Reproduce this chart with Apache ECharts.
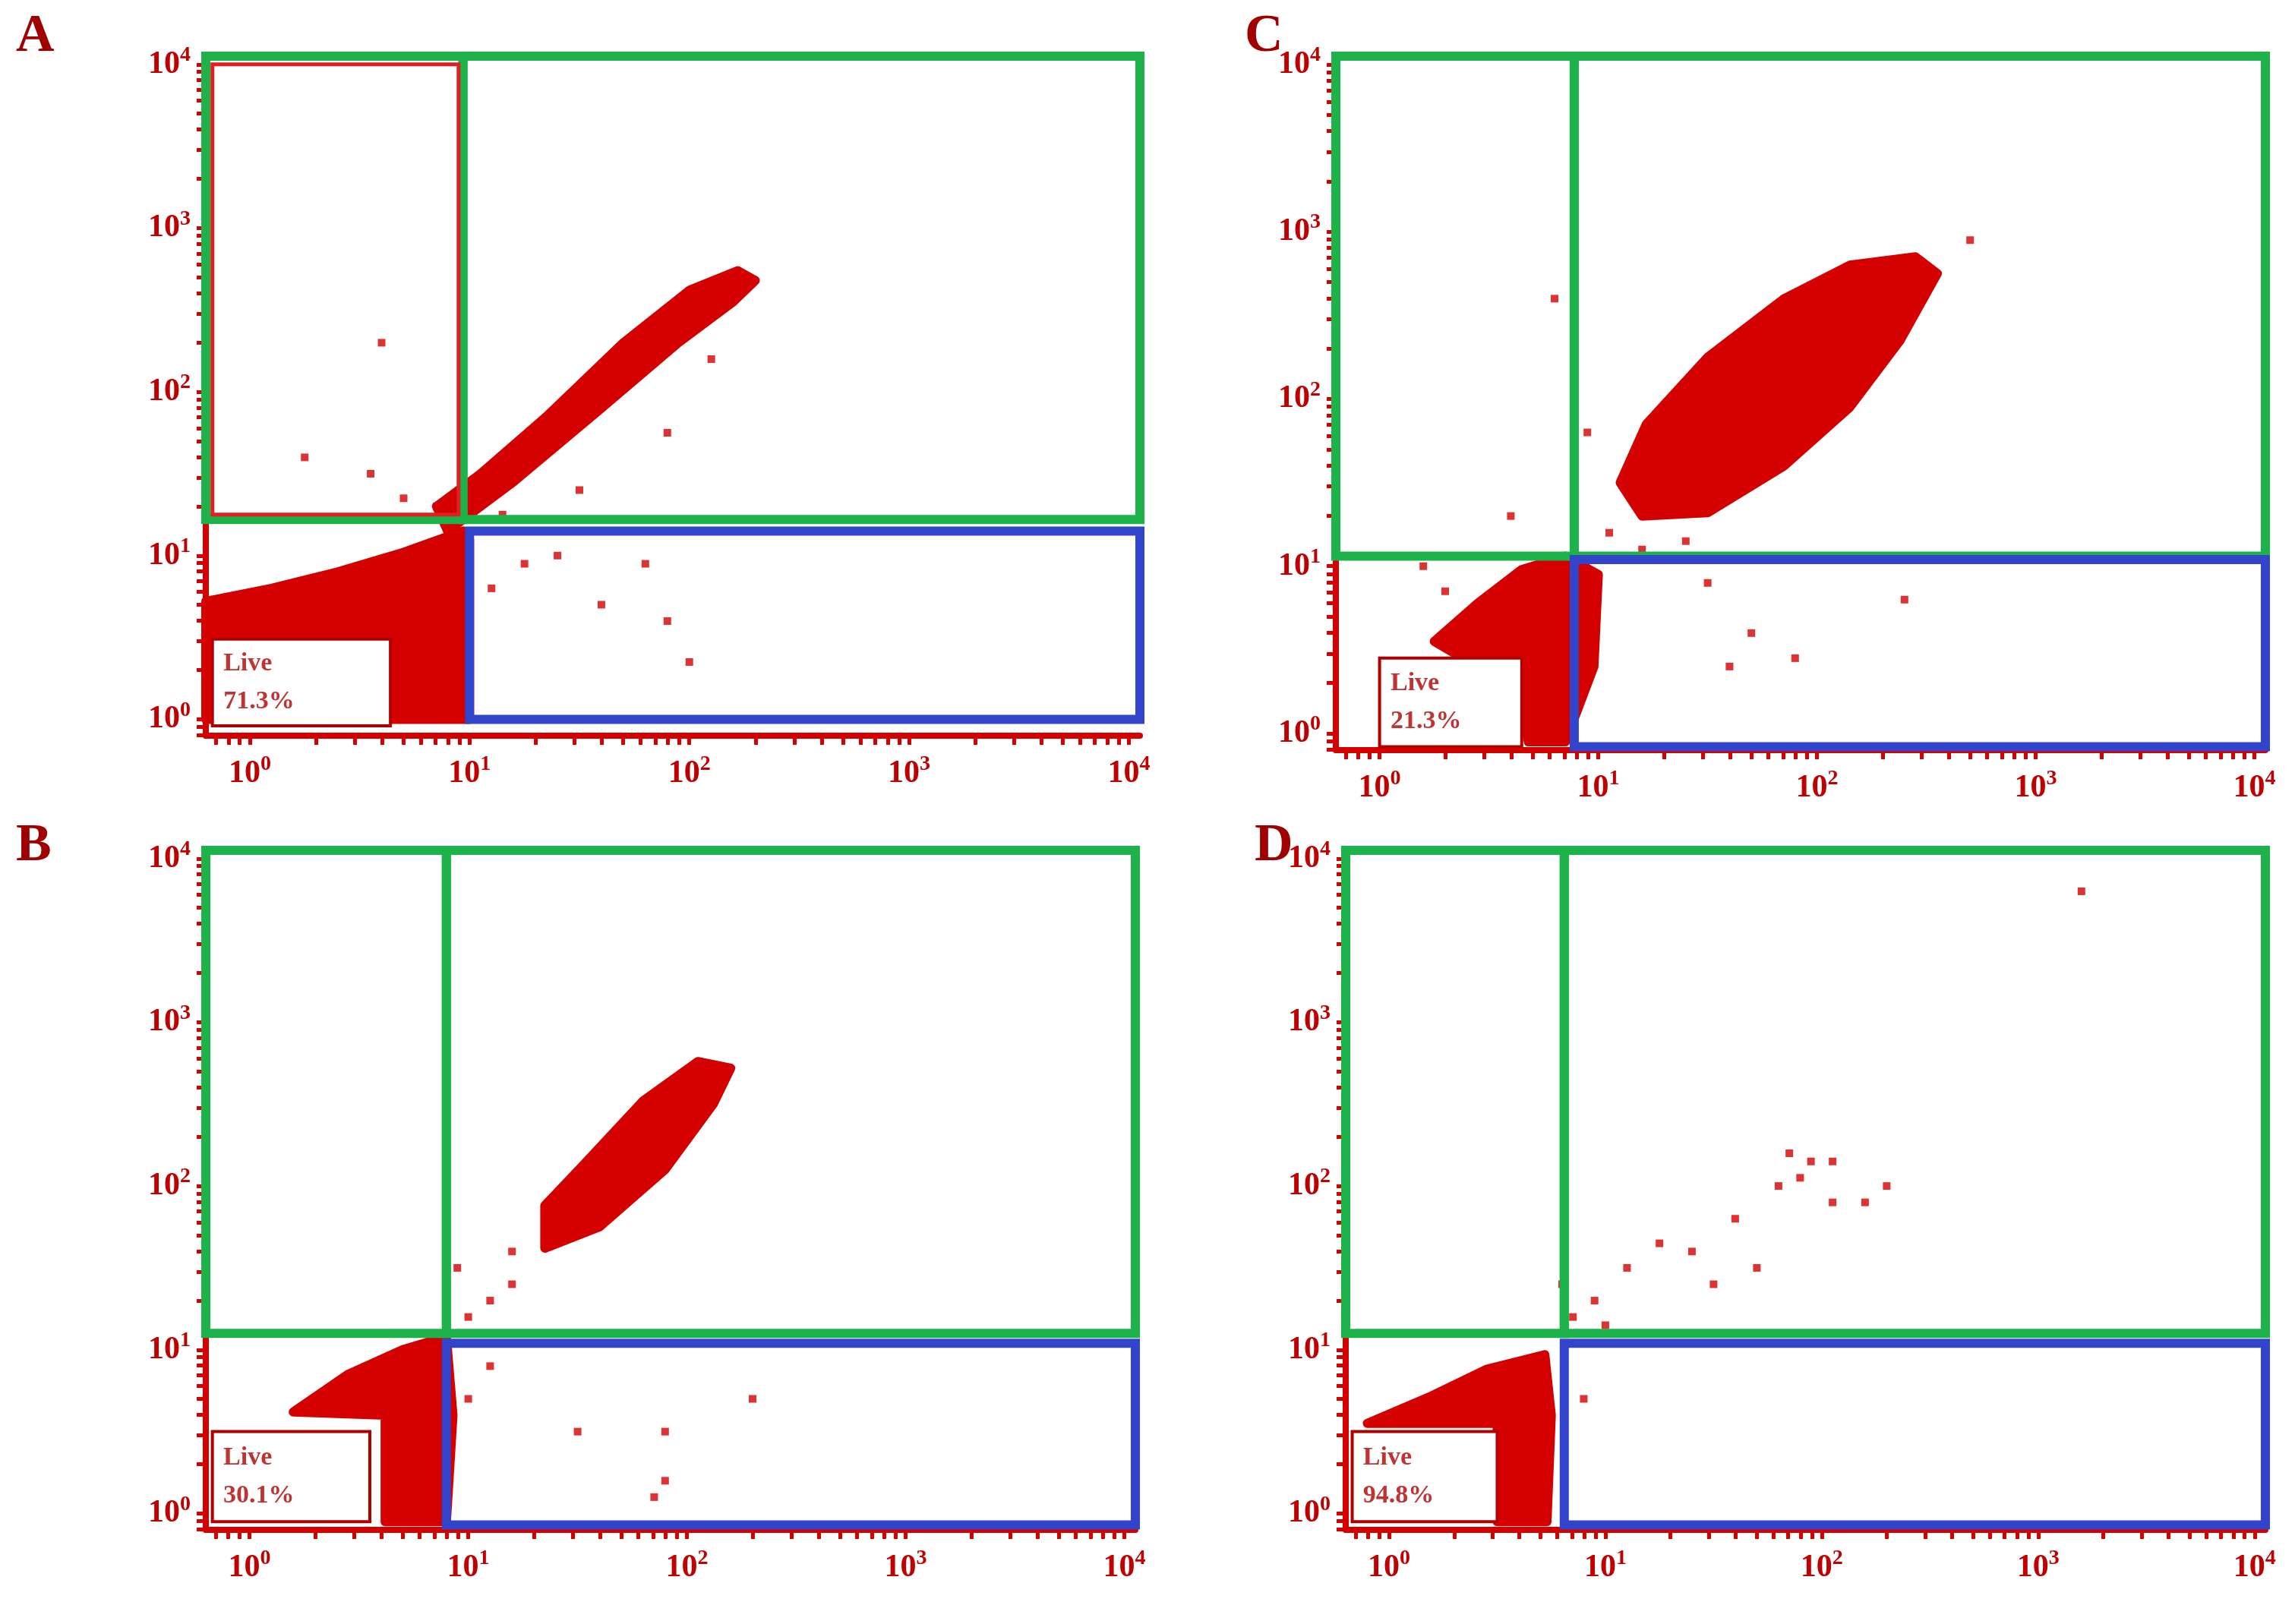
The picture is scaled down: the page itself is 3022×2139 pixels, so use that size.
<!DOCTYPE html>
<html><head><meta charset="utf-8">
<script src="https://cdn.jsdelivr.net/npm/echarts@6/dist/echarts.min.js"></script>
<style>html,body{margin:0;background:#fff}#c{width:3022px;height:2139px}</style>
</head><body><div id="c"></div>
<script>
// panels: A, C (top), B, D (bottom); coordinates are log10 values
var panelNames = ['A', 'C', 'B', 'D'];
var liveText = ['71.3%', '21.3%', '30.1%', '94.8%'];
var decades = [0, 1, 2, 3, 4];

// dense population outlines
var blobs = [
  [
    [[-0.2,0.0],[-0.2,0.72],[0.1,0.8],[0.4,0.9],[0.7,1.02],[0.97,1.15],[1.0,1.1],[1.0,0.0]],
    [[0.9,1.15],[1.2,1.45],[1.6,1.9],[1.95,2.3],[2.2,2.55],[2.3,2.68],[2.22,2.74],[2.0,2.62],[1.7,2.3],[1.35,1.85],[1.05,1.5],[0.85,1.3]]
  ],
  [
    [[0.25,0.55],[0.45,0.78],[0.65,0.98],[0.85,1.06],[1.0,0.95],[0.98,0.4],[0.85,-0.05],[0.68,-0.05],[0.62,0.4],[0.38,0.45]],
    [[1.2,1.3],[1.5,1.32],[1.85,1.6],[2.15,1.95],[2.38,2.35],[2.55,2.75],[2.45,2.85],[2.15,2.8],[1.85,2.6],[1.5,2.25],[1.22,1.85],[1.1,1.5]]
  ],
  [
    [[0.2,0.62],[0.45,0.85],[0.7,1.0],[0.9,1.08],[0.93,0.6],[0.9,-0.05],[0.62,-0.05],[0.62,0.6]],
    [[1.35,1.62],[1.6,1.75],[1.9,2.1],[2.12,2.5],[2.2,2.72],[2.05,2.76],[1.8,2.52],[1.52,2.12],[1.35,1.88]]
  ],
  [
    [[-0.1,0.55],[0.2,0.72],[0.45,0.88],[0.72,0.97],[0.75,0.6],[0.73,-0.05],[0.5,-0.05],[0.5,0.55]]
  ]
];

// sparse events
var dots = [
  [[0.6,2.3],[0.25,1.6],[0.55,1.5],[0.7,1.35],[0.85,1.3],[1.15,1.25],[1.4,1.0],[1.6,0.7],[1.9,0.6],[2.0,0.35],[1.8,0.95],[1.25,0.95],[1.1,0.8],[1.5,1.4],[1.9,1.75],[2.1,2.2],[0.9,0.6]],
  [[0.8,2.6],[0.95,1.8],[0.6,1.3],[1.05,1.2],[1.2,1.1],[1.5,0.9],[1.7,0.6],[1.9,0.45],[2.4,0.8],[1.6,0.4],[2.3,2.3],[2.7,2.95],[1.4,1.15],[0.2,1.0],[0.3,0.85]],
  [[0.7,4.05],[2.8,4.05],[3.3,4.05],[1.1,1.3],[1.2,1.4],[1.0,1.2],[0.95,1.5],[1.2,1.6],[1.5,0.5],[1.9,0.5],[2.3,0.7],[1.9,0.2],[1.85,0.1],[1.1,0.9],[1.0,0.7]],
  [[3.2,3.8],[0.8,1.4],[0.95,1.3],[1.1,1.5],[1.25,1.65],[1.5,1.4],[1.6,1.8],[1.8,2.0],[1.9,2.05],[1.95,2.15],[1.85,2.2],[2.05,1.9],[2.2,1.9],[2.3,2.0],[2.05,2.15],[1.4,1.6],[1.7,1.5],[1.0,1.15],[0.9,0.7],[1.3,1.1],[0.85,1.2]]
];

// gates: [x0, y0, x1, y1] in log units
var greenGates = [
  [[-0.2,1.22,0.97,4.05],[0.97,1.22,4.05,4.05]],
  [[-0.2,1.06,0.89,4.05],[0.89,1.06,4.05,4.05]],
  [[-0.2,1.1,0.9,4.05],[0.9,1.1,4.05,4.05]],
  [[-0.2,1.1,0.81,4.05],[0.81,1.1,4.05,4.05]]
];
var blueGates = [[1.0,0.0,4.05,1.15],[0.89,-0.08,4.05,1.04],[0.9,-0.07,4.05,1.04],[0.81,-0.07,4.05,1.04]];
var liveBoxes = [[-0.17,-0.04,0.64,0.49],[0.0,-0.08,0.65,0.45],[-0.17,-0.05,0.55,0.5],[-0.17,-0.05,0.5,0.5]];

var grids = [
  {left: 271, top: 74, width: 1230, height: 895},
  {left: 1759, top: 74, width: 1224, height: 914},
  {left: 271, top: 1120, width: 1224, height: 895},
  {left: 1772, top: 1120, width: 1211, height: 895}
];

var red = '#d40000';
var minorTicks = [];
for (var n = -1; n < 5; n++) for (var k = 1; k < 10; k++) {
  var v = n + Math.log10(k);
  if (v >= -0.2 && v <= 4.05) minorTicks.push(v);
}

function axis(i, dim) {
  return {
    type: 'value', gridIndex: i, min: dim === 'x' ? -0.2 : -0.1, max: 4.05,
    axisLine: {show: true, onZero: false, lineStyle: {color: red, width: 8}},
    axisTick: {show: true, customValues: minorTicks, length: 12, inside: false, lineStyle: {color: red, width: 5}},
    splitLine: {show: false},
    axisLabel: {
      customValues: decades, margin: dim === 'x' ? 24 : 20,
      formatter: function (v) { return '{b|10}{s|' + Math.round(v) + '}'; },
      rich: {
        b: {fontFamily: 'Liberation Serif', fontWeight: 'bold', fontSize: 42, color: '#c00000'},
        s: {fontFamily: 'Liberation Serif', fontWeight: 'bold', fontSize: 28, color: '#c00000', verticalAlign: 'top', padding: [0, 0, 24, 0]}
      }
    }
  };
}

function rectSeries(i, rects, color, width, fill, z) {
  return {
    type: 'custom', xAxisIndex: i, yAxisIndex: i, z: z, silent: true,
    data: rects.map(function (r) { return r; }),
    renderItem: function (params, api) {
      var a = api.coord([api.value(0), api.value(3)]);
      var b = api.coord([api.value(2), api.value(1)]);
      return {type: 'rect', shape: {x: a[0], y: a[1], width: b[0] - a[0], height: b[1] - a[1]},
        style: {fill: fill, stroke: color, lineWidth: width}};
    }
  };
}

var series = [];
var graphics = [];
for (var i = 0; i < 4; i++) {
  (function (i) {
    var polys = blobs[i];
    series.push({
      type: 'custom', xAxisIndex: i, yAxisIndex: i, z: 2, silent: true,
      data: polys.map(function (p, j) { return [j]; }),
      renderItem: function (params, api) {
        var pts = polys[api.value(0)].map(function (p) { return api.coord(p); });
        return {type: 'polygon', shape: {points: pts},
          style: {fill: red, stroke: red, lineWidth: 12, lineJoin: 'round'}};
      }
    });
  })(i);
  series.push({type: 'scatter', xAxisIndex: i, yAxisIndex: i, z: 3, symbol: 'rect', symbolSize: 10,
    itemStyle: {color: red}, data: dots[i]});
  series.push(rectSeries(i, [liveBoxes[i]], '#b00000', 4, '#fff', 4));
  series.push({type: 'scatter', xAxisIndex: i, yAxisIndex: i, z: 5, symbolSize: 0, silent: true,
    data: [[liveBoxes[i][0] + 0.05, (liveBoxes[i][1] + liveBoxes[i][3]) / 2]],
    label: {show: true, position: 'right', distance: 0,
      formatter: 'Live\n' + liveText[i], lineHeight: 50,
      fontFamily: 'Liberation Serif', fontWeight: 'bold', fontSize: 34, color: '#b00000'}});
  series.push(rectSeries(i, greenGates[i], '#1db34a', 12, 'none', 6));
  series.push(rectSeries(i, [blueGates[i]], '#3344cc', 12, 'none', 6));
  if (i === 0) series.push(rectSeries(i, [[-0.17, 1.25, 0.95, 4.0]], '#e02020', 5, 'none', 7));
  graphics.push({type: 'text', left: grids[i].left - (i % 2 ? 120 : 250), top: grids[i].top - (i < 2 ? 60 : 40),
    style: {text: panelNames[i], font: 'bold 70px "Liberation Serif"', fill: '#a00000'}});
}

var chart = echarts.init(document.getElementById('c'));
chart.setOption({
  animation: false,
  backgroundColor: '#fff',
  grid: grids,
  xAxis: [0, 1, 2, 3].map(function (i) { return axis(i, 'x'); }),
  yAxis: [0, 1, 2, 3].map(function (i) { return axis(i, 'y'); }),
  graphic: graphics,
  series: series
});
</script></body></html>
